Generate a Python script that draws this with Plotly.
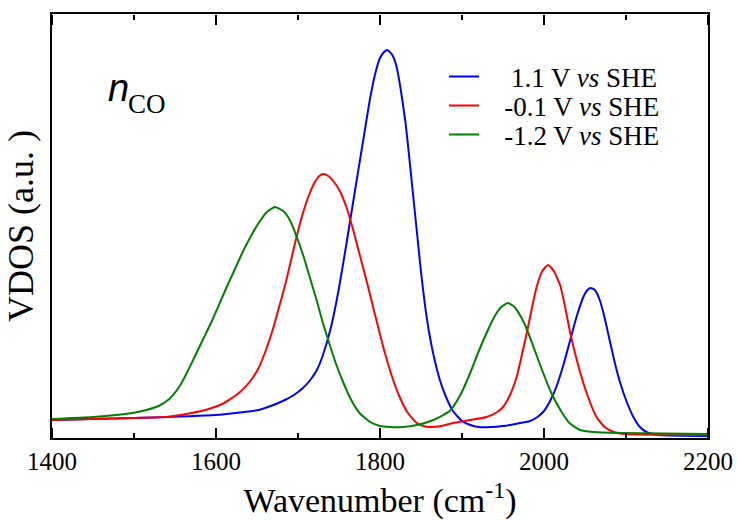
import plotly.graph_objects as go

# Wavenumber (cm^-1) and VDOS (a.u.)
wn_blue = [1400, 1500, 1599, 1652, 1670, 1684, 1695, 1706, 1715, 1723, 1730, 1740, 1750, 1760,
           1770, 1780, 1788, 1795, 1800, 1805, 1809, 1815, 1820, 1825, 1831, 1835, 1840, 1845,
           1850, 1855, 1860, 1865, 1873, 1880, 1889, 1900, 1910, 1920, 1935, 1950, 1965, 1983,
           1992, 2000, 2008, 2015, 2024, 2032, 2040, 2048, 2053, 2057, 2062, 2068, 2074, 2080,
           2087, 2093, 2100, 2109, 2117, 2125, 2140, 2200]
vdos_blue = [0.18, 0.20, 0.23, 0.28, 0.33, 0.38, 0.43, 0.50, 0.58, 0.68, 0.82, 1.10, 1.50, 1.99,
             2.50, 3.00, 3.40, 3.67, 3.80, 3.86, 3.88, 3.83, 3.72, 3.50, 3.16, 2.86, 2.46, 2.06,
             1.66, 1.32, 1.05, 0.84, 0.58, 0.42, 0.27, 0.17, 0.13, 0.11, 0.11, 0.12, 0.14, 0.17,
             0.21, 0.27, 0.38, 0.51, 0.74, 0.98, 1.22, 1.41, 1.48, 1.50, 1.48, 1.38, 1.20, 0.98,
             0.73, 0.55, 0.38, 0.21, 0.11, 0.06, 0.03, 0.02]

wn_red = [1400, 1500, 1538, 1570, 1591, 1610, 1628, 1642, 1652, 1660, 1668, 1676, 1685, 1691,
          1697, 1705, 1713, 1720, 1726, 1731, 1737, 1744, 1751, 1759, 1767, 1775, 1784, 1794,
          1804, 1814, 1824, 1834, 1845, 1853, 1861, 1875, 1889, 1910, 1930, 1943, 1950, 1958,
          1967, 1973, 1979, 1985, 1991, 1998, 2005, 2012, 2020, 2026, 2032, 2040, 2048, 2056,
          2064, 2074, 2085, 2100, 2200]
vdos_red = [0.18, 0.20, 0.21, 0.25, 0.29, 0.35, 0.45, 0.57, 0.70, 0.86, 1.05, 1.28, 1.55, 1.76,
            1.97, 2.22, 2.42, 2.55, 2.62, 2.64, 2.62, 2.56, 2.47, 2.31, 2.09, 1.84, 1.56, 1.23,
            0.91, 0.63, 0.41, 0.25, 0.15, 0.12, 0.11, 0.12, 0.15, 0.18, 0.21, 0.26, 0.31, 0.42,
            0.62, 0.83, 1.05, 1.29, 1.51, 1.67, 1.73, 1.67, 1.52, 1.30, 1.05, 0.78, 0.55, 0.36,
            0.21, 0.11, 0.06, 0.04, 0.03]

wn_green = [1400, 1450, 1498, 1515, 1530, 1543, 1555, 1565, 1575, 1585, 1595, 1603, 1611, 1622,
            1632, 1642, 1652, 1662, 1672, 1682, 1690, 1699, 1707, 1715, 1723, 1730, 1738, 1746,
            1755, 1763, 1775, 1788, 1800, 1812, 1828, 1845, 1865, 1885, 1898, 1910, 1920, 1930,
            1940, 1948, 1956, 1964, 1972, 1979, 1989, 1999, 2009, 2020, 2031, 2044, 2060, 2093,
            2200]
vdos_green = [0.19, 0.21, 0.25, 0.28, 0.32, 0.39, 0.51, 0.66, 0.83, 1.00, 1.17, 1.32, 1.47, 1.67,
              1.85, 2.01, 2.15, 2.26, 2.31, 2.27, 2.18, 2.00, 1.81, 1.59, 1.37, 1.16, 0.95, 0.75,
              0.56, 0.41, 0.25, 0.16, 0.12, 0.11, 0.11, 0.13, 0.18, 0.27, 0.43, 0.65, 0.86, 1.05,
              1.22, 1.31, 1.35, 1.31, 1.21, 1.09, 0.87, 0.65, 0.45, 0.28, 0.15, 0.08, 0.06, 0.05,
              0.04]

names = ["\u00a0\u00a0\u00a0 1.1 V <i>vs</i> SHE",
         "\u00a0\u00a0\u00a0-0.1 V <i>vs</i> SHE",
         "\u00a0\u00a0\u00a0-1.2 V <i>vs</i> SHE"]
colors = ["#0000ff", "#ff0000", "#008000"]
legend_ids = ["legend", "legend2", "legend3"]
legend_rows_px = [77, 106, 135]
x_range = [1400, 2200]
x_ticks = [1400, 1600, 1800, 2000, 2200]

SERIF = "Liberation Serif, Times New Roman, serif"

fig = go.Figure()
for wn, v, nm, c, lg in zip([wn_blue, wn_red, wn_green], [vdos_blue, vdos_red, vdos_green],
                            names, colors, legend_ids):
    fig.add_trace(go.Scatter(x=wn, y=v, mode="lines", name=nm, legend=lg,
                             line=dict(color=c, width=2, shape="spline", smoothing=0.5)))

# empty helper traces so the tick-only axes (bottom & top, ticks pointing inward) are drawn
for ax in ["x2", "x3"]:
    fig.add_trace(go.Scatter(x=[], y=[], xaxis=ax, yaxis="y", showlegend=False, hoverinfo="skip"))

legend_layout = {}
for lg, ypx in zip(legend_ids, legend_rows_px):
    legend_layout[lg] = dict(x=(444 - 52) / 656, xanchor="left", y=(438 - ypx) / 424, yanchor="middle",
                             font=dict(family=SERIF, size=27, color="black"),
                             bgcolor="rgba(0,0,0,0)", borderwidth=0)

tick_axis = dict(range=x_range, overlaying="x", anchor="free", tickmode="array", tickvals=x_ticks,
                 ticks="outside", ticklen=10, tickwidth=1.5, tickcolor="black",
                 minor=dict(tickmode="linear", dtick=100, tick0=1400, ticks="outside", ticklen=5,
                            tickwidth=1.5, tickcolor="black"),
                 showticklabels=False, showline=False, showgrid=False, zeroline=False,
                 automargin=False)

fig.update_layout(
    width=737, height=520,
    margin=dict(l=52, r=29, t=14, b=82, autoexpand=False),
    paper_bgcolor="white", plot_bgcolor="white",
    font=dict(family=SERIF, color="black"),
    showlegend=True,
    **legend_layout,
    xaxis=dict(range=x_range, tickmode="array", tickvals=x_ticks,
               ticktext=[str(t) for t in x_ticks], ticks="",
               showline=True, linecolor="black", linewidth=2, mirror=True,
               showgrid=False, zeroline=False, automargin=False,
               tickfont=dict(family=SERIF, size=25, color="black"),
               title=dict(text="Wavenumber (cm<sup>-1</sup>)",
                          font=dict(family=SERIF, size=34, color="black"), standoff=16)),
    xaxis2=dict(tick_axis, side="top", position=0),
    xaxis3=dict(tick_axis, side="bottom", position=1),
    yaxis=dict(range=[0, 4.24], showticklabels=False, ticks="",
               showline=True, linecolor="black", linewidth=2, mirror=True,
               showgrid=False, zeroline=False, automargin=False,
               title=dict(text="VDOS\u00a0(a.u.\u00a0)",
                          font=dict(family=SERIF, size=36, color="black"), standoff=5)),
    annotations=[
        dict(xref="paper", yref="paper", x=(106 - 52) / 656, y=(438 - 88) / 424,
             xanchor="left", yanchor="middle", showarrow=False, text="<i>n</i>",
             font=dict(family="Liberation Sans, Arial, sans-serif", size=38, color="black")),
        dict(xref="paper", yref="paper", x=(126 - 52) / 656, y=(438 - 104) / 424,
             xanchor="left", yanchor="middle", showarrow=False, text="CO",
             font=dict(family=SERIF, size=27, color="black")),
    ],
)

fig.write_html("out.html", config={"displayModeBar": False},
               post_script="document.body.style.margin='0';")
